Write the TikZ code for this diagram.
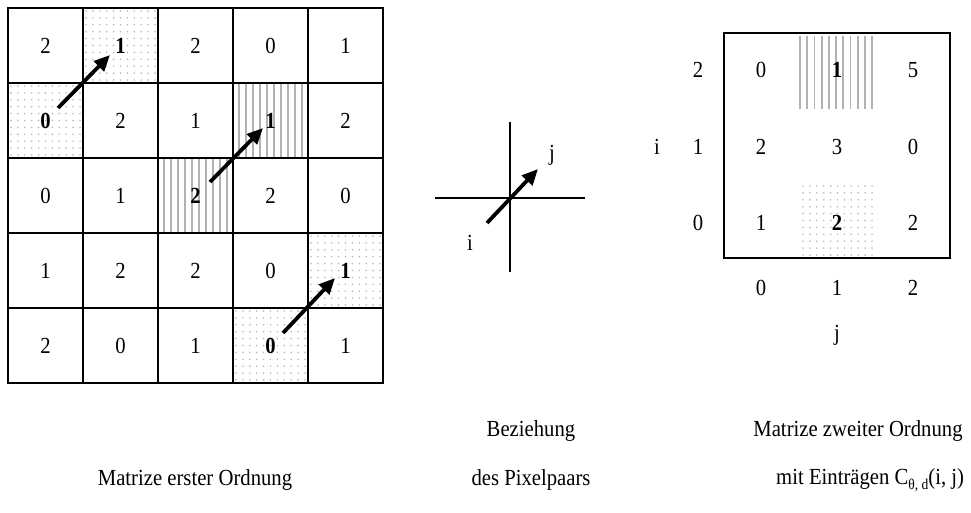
\documentclass[tikz,border=0pt]{standalone}
\usepackage{fontspec}
\setmainfont{Liberation Serif}[FakeStretch=0.9]
\usetikzlibrary{arrows.meta}
\newcommand\dotpatch[4]{\foreach \ii in {0,...,#3}{\foreach \jj in {0,...,#4}{\fill[dotfill] ({#1+3+6.9*\ii},{#2+3+6.9*\jj}) circle (0.9pt);}}}
\newcommand\hatchpatch[5]{\foreach \ii in {0,...,#4}{\draw[hatch] ({#1+#5*\ii},#2) -- ({#1+#5*\ii},#3);}}
\begin{document}
\begin{tikzpicture}[x=1pt,y=-1pt,
  num/.style={font=\fontsize{23}{23}\selectfont, inner sep=0pt},
  bnum/.style={font=\fontsize{23}{23}\selectfont\bfseries, inner sep=0pt},
  lbl/.style={font=\fontsize{23}{27}\selectfont, inner sep=0pt},
  gridline/.style={line width=2pt},
  frame/.style={line width=2.8pt},
  arr/.style={line width=3.8pt, -{Triangle[length=16pt,width=14pt]}},
  dotfill/.style={fill=gray!55},
  hatch/.style={draw=gray!60, line width=1.8pt}]
\useasboundingbox (0,0) rectangle (971,513);
% ---------- left matrix patterns ----------
\dotpatch{83}{8}{10}{10}
\dotpatch{8}{83}{10}{10}
\dotpatch{308}{233}{10}{10}
\dotpatch{233}{308}{10}{10}
\hatchpatch{239}{83}{158}{9}{7}
\hatchpatch{164}{158}{233}{9}{7}
% ---------- left grid ----------
\foreach \k in {1,...,4}{
  \draw[gridline] ({8+75*\k},8) -- ({8+75*\k},383);
  \draw[gridline] (8,{8+75*\k}) -- (383,{8+75*\k});
}
\draw[frame] (8,8) rectangle (383,383);
% row 0
\node[num]  (c00) at (45.5,45.5)  {2};
\node[bnum] (c01) at (120.5,45.5) {1};
\node[num]  (c02) at (195.5,45.5) {2};
\node[num]  (c03) at (270.5,45.5) {0};
\node[num]  (c04) at (345.5,45.5) {1};
% row 1
\node[bnum] (c10) at (45.5,120.5)  {0};
\node[num]  (c11) at (120.5,120.5) {2};
\node[num]  (c12) at (195.5,120.5) {1};
\node[bnum] (c13) at (270.5,120.5) {1};
\node[num]  (c14) at (345.5,120.5) {2};
% row 2
\node[num]  (c20) at (45.5,195.5)  {0};
\node[num]  (c21) at (120.5,195.5) {1};
\node[bnum] (c22) at (195.5,195.5) {2};
\node[num]  (c23) at (270.5,195.5) {2};
\node[num]  (c24) at (345.5,195.5) {0};
% row 3
\node[num]  (c30) at (45.5,270.5)  {1};
\node[num]  (c31) at (120.5,270.5) {2};
\node[num]  (c32) at (195.5,270.5) {2};
\node[num]  (c33) at (270.5,270.5) {0};
\node[bnum] (c34) at (345.5,270.5) {1};
% row 4
\node[num]  (c40) at (45.5,345.5)  {2};
\node[num]  (c41) at (120.5,345.5) {0};
\node[num]  (c42) at (195.5,345.5) {1};
\node[bnum] (c43) at (270.5,345.5) {0};
\node[num]  (c44) at (345.5,345.5) {1};
% arrows
\coordinate (a1s) at (58,108);  \coordinate (a1e) at (110,55);
\coordinate (a2s) at (210,182); \coordinate (a2e) at (263,128);
\coordinate (a3s) at (283,333); \coordinate (a3e) at (335,278);
\draw[arr] (a1s) -- (a1e);
\draw[arr] (a2s) -- (a2e);
\draw[arr] (a3s) -- (a3e);
% ---------- middle cross ----------
\coordinate (vt) at (510,122); \coordinate (vb) at (510,272);
\coordinate (hl) at (435,198); \coordinate (hr) at (585,198);
\draw[gridline] (vt) -- (vb);
\draw[gridline] (hl) -- (hr);
\coordinate (ms) at (487,223); \coordinate (me) at (538,169);
\draw[arr] (ms) -- (me);
\node[lbl] (mj) at (552,155) {j};
\node[lbl] (mi) at (470,243) {i};
% ---------- right matrix ----------
\hatchpatch{800}{36}{109}{10}{7.2}
\dotpatch{800}{183}{10}{10}
\draw[frame] (724,33) rectangle (950,258);
\node[num]  (r20) at (761,70)  {0};
\node[bnum] (r21) at (837,70)  {1};
\node[num]  (r22) at (913,70)  {5};
\node[num]  (r10) at (761,147) {2};
\node[num]  (r11) at (837,147) {3};
\node[num]  (r12) at (913,147) {0};
\node[num]  (r00) at (761,223) {1};
\node[bnum] (r01) at (837,223) {2};
\node[num]  (r02) at (913,223) {2};
\node[num] (ri2) at (698,70)  {2};
\node[num] (ri1) at (698,147) {1};
\node[num] (ri0) at (698,223) {0};
\node[lbl] (ri)  at (657,147) {i};
\node[num] (rj0) at (761,288) {0};
\node[num] (rj1) at (837,288) {1};
\node[num] (rj2) at (913,288) {2};
\node[lbl] (rj)  at (837,335) {j};
% ---------- captions ----------
\node[lbl] (t1)  at (195,480) {Matrize erster Ordnung};
\node[lbl] (t2a) at (531,431) {Beziehung};
\node[lbl] (t2b) at (531,480) {des Pixelpaars};
\node[lbl] (t3a) at (858,431) {Matrize zweiter Ordnung};
\node[lbl,anchor=west] (t3b) at (776,480) {mit Einträgen C\raisebox{-0.5ex}{\fontsize{15}{15}\selectfont θ, d}(i, j)};
\end{tikzpicture}
\end{document}
